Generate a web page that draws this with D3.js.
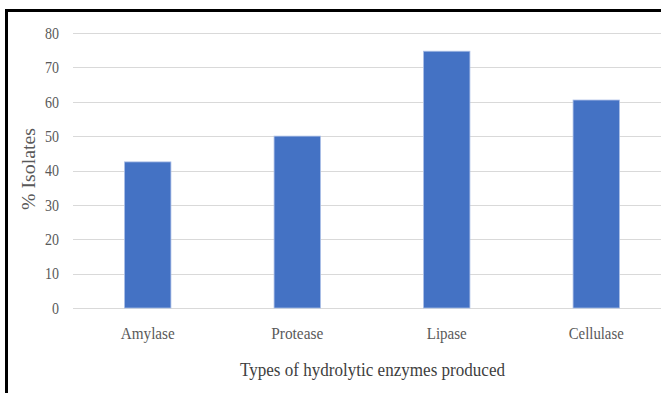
<!DOCTYPE html>
<html>
<head>
<meta charset="utf-8">
<script src="https://cdn.jsdelivr.net/npm/d3@7"></script>
<style>
  html, body { margin: 0; padding: 0; background: #fff; }
  svg { display: block; }
  text { font-family: "Liberation Serif", "Times New Roman", serif; }
</style>
</head>
<body>
<svg id="chart" width="661" height="393"></svg>
<script>
// Share of isolates producing each hydrolytic enzyme
const categories = ["Amylase", "Protease", "Lipase", "Cellulase"];
const values = [42.5, 50, 74.7, 60.5];
const yTicks = [0, 10, 20, 30, 40, 50, 60, 70, 80];
const xTitle = "Types of hydrolytic enzymes produced";
const yTitle = "% Isolates";

const svg = d3.select("#chart");
const W = 661, H = 393;
const plotLeft = 73, plotRight = 671, plotTop = 33, plotBottom = 308;

const x = d3.scaleBand()
  .domain(categories)
  .range([plotLeft, plotRight])
  .paddingInner(0.69)
  .paddingOuter(0.345);

const y = d3.scaleLinear().domain([0, 80]).range([plotBottom, plotTop]);

// frame
svg.append("rect").attr("x", 0).attr("y", 0).attr("width", W).attr("height", H).attr("fill", "#fff");
svg.append("line").attr("x1", 6.5).attr("x2", 6.5).attr("y1", 9).attr("y2", H)
  .attr("stroke", "#000").attr("stroke-width", 3);
svg.append("line").attr("x1", 5).attr("x2", W).attr("y1", 10.5).attr("y2", 10.5)
  .attr("stroke", "#000").attr("stroke-width", 3);

// gridlines
svg.append("g").selectAll("line").data(yTicks).join("line")
  .attr("x1", plotLeft).attr("x2", W)
  .attr("y1", d => Math.round(y(d)) + 0.5).attr("y2", d => Math.round(y(d)) + 0.5)
  .attr("stroke", "#d9d9d9").attr("stroke-width", 1);

// tick labels
svg.append("g").selectAll("text").data(yTicks).join("text")
  .attr("x", 59).attr("y", d => y(d))
  .attr("dy", "0.35em")
  .attr("text-anchor", "end")
  .attr("font-size", 16.5)
  .attr("fill", "#595959")
  .attr("textLength", d => String(d).length * 7)
  .attr("lengthAdjust", "spacingAndGlyphs")
  .text(d => d);

// bars
svg.append("g").selectAll("rect").data(categories).join("rect")
  .attr("x", d => x(d))
  .attr("width", x.bandwidth())
  .attr("y", (d, i) => y(values[i]))
  .attr("height", (d, i) => y(0) - y(values[i]))
  .attr("fill", "#4472c4")
  .attr("stroke", "#a9bde6")
  .attr("stroke-width", 0.8);

// category labels
const catWidths = { "Amylase": 54, "Protease": 52, "Lipase": 40, "Cellulase": 55 };
svg.append("g").selectAll("text").data(categories).join("text")
  .attr("x", d => x(d) + x.bandwidth() / 2)
  .attr("y", 339)
  .attr("text-anchor", "middle")
  .attr("font-size", 16)
  .attr("fill", "#595959")
  .attr("textLength", d => catWidths[d])
  .attr("lengthAdjust", "spacingAndGlyphs")
  .text(d => d);

// axis titles
svg.append("text")
  .attr("x", 372.5).attr("y", 376)
  .attr("text-anchor", "middle")
  .attr("font-size", 18.5)
  .attr("fill", "#404040")
  .attr("textLength", 265)
  .attr("lengthAdjust", "spacingAndGlyphs")
  .text(xTitle);

svg.append("text")
  .attr("transform", "translate(35,169) rotate(-90)")
  .attr("text-anchor", "middle")
  .attr("font-size", 18)
  .attr("fill", "#595959")
  .attr("textLength", 82)
  .attr("lengthAdjust", "spacingAndGlyphs")
  .text(yTitle);
</script>
</body>
</html>
